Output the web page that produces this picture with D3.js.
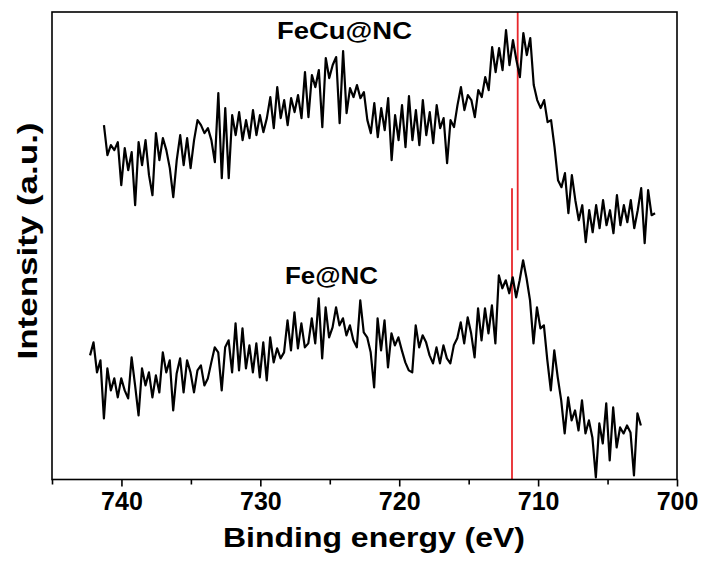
<!DOCTYPE html>
<html>
<head>
<meta charset="utf-8">
<script src="https://cdn.jsdelivr.net/npm/d3@7"></script>
<style>
  html, body { margin: 0; padding: 0; background: #fff; }
  text { font-family: "Liberation Sans", Arial, sans-serif; font-weight: bold; fill: #000; }
</style>
</head>
<body>
<svg id="chart" width="701" height="562"></svg>
<script>
// ---------- data ----------
const xDomain = [745, 700];
const yDomain = [0, 467];
const majorTicks = [740, 730, 720, 710, 700];
const minorTicks = [745, 735, 725, 715, 705];

const feCuLabel = "FeCu@NC";
const feLabel = "Fe@NC";

const feCuStart = 741.26, feCuEnd = 701.58;
const feCuIntensity = [354,324,334,329,337,294,331,309,327,274,
337,314,339,304,284,346,319,341,329,311,
282,319,344,314,341,311,339,359,354,346,
351,339,317,386,301,371,301,364,344,367,
339,359,341,369,344,364,347,361,382,351,
392,361,379,354,381,367,384,361,407,362,
404,392,409,352,421,401,414,422,356,428,
366,391,382,394,381,387,359,346,376,342,
371,349,381,319,364,339,374,332,383,339,
369,334,379,344,367,336,374,351,361,316,
359,352,374,392,369,384,379,362,389,382,
402,389,432,407,431,409,449,414,439,419,
402,446,424,441,394,379,371,379,357,359,
332,299,292,306,266,304,279,259,274,237,
269,247,274,251,279,254,269,246,284,254,
274,257,279,251,269,291,236,289,264,266];

const feStart = 742.26, feEnd = 702.60;
const feIntensity = [124,137,107,119,61,111,89,101,82,101,
89,81,122,94,64,111,94,107,82,104,
87,127,107,119,69,106,121,87,119,107,
87,109,114,94,101,117,132,127,89,132,
139,107,156,109,151,111,134,107,136,102,
137,99,142,117,131,121,127,159,129,167,
131,156,132,136,161,136,181,121,172,142,
152,172,154,161,144,154,139,132,179,147,
142,127,92,161,129,159,112,146,134,142,
129,117,109,107,154,132,144,137,124,116,
132,116,134,121,116,134,141,157,136,162,
146,122,171,139,171,146,174,136,204,191,
199,186,202,182,199,219,201,179,136,172,
151,154,119,89,129,102,79,46,82,59,
69,49,79,46,59,42,2,56,36,76,
19,72,32,52,46,54,47,4,66,54];

// reference marker lines: [energy, intensity from, intensity to]
const markerFeCu = [711.47, 467, 229];
const markerFe = [711.88, 291, 0];

// ---------- chart ----------
const svg = d3.select("#chart");
const plot = { left: 52, right: 677, top: 12, bottom: 479.5 };

const x = d3.scaleLinear().domain(xDomain).range([plot.left, plot.right]);
const y = d3.scaleLinear().domain(yDomain).range([plot.bottom, plot.top]);

function series(start, end, vals) {
  const n = vals.length;
  return vals.map((v, i) => ({ e: start + (end - start) * i / (n - 1), v }));
}

const line = d3.line().x(d => x(d.e)).y(d => y(d.v));

// red marker lines
[markerFeCu, markerFe].forEach(m => {
  svg.append("line")
    .attr("x1", x(m[0])).attr("x2", x(m[0]))
    .attr("y1", y(m[1])).attr("y2", y(m[2]))
    .attr("stroke", "#e8262b").attr("stroke-width", 1.8);
});

// spectra
[[feCuStart, feCuEnd, feCuIntensity], [feStart, feEnd, feIntensity]].forEach(s => {
  svg.append("path")
    .datum(series(s[0], s[1], s[2]))
    .attr("d", line)
    .attr("fill", "none")
    .attr("stroke", "#000")
    .attr("stroke-width", 2.2)
    .attr("stroke-linejoin", "round");
});

// frame
svg.append("rect")
  .attr("x", plot.left).attr("y", plot.top)
  .attr("width", plot.right - plot.left).attr("height", plot.bottom - plot.top)
  .attr("fill", "none").attr("stroke", "#000").attr("stroke-width", 1.6);

// x axis major
const gMajor = svg.append("g")
  .attr("transform", `translate(0,${plot.bottom})`)
  .call(d3.axisBottom(x).tickValues(majorTicks).tickSize(7).tickPadding(6).tickFormat(d3.format("d")));
gMajor.select(".domain").remove();
gMajor.selectAll(".tick line").attr("stroke", "#000").attr("stroke-width", 1.6);
gMajor.selectAll(".tick text")
  .attr("font-size", 25).attr("font-family", "Liberation Sans, Arial, sans-serif")
  .attr("font-weight", "bold").attr("fill", "#000");

// x axis minor
const gMinor = svg.append("g")
  .attr("transform", `translate(0,${plot.bottom})`)
  .call(d3.axisBottom(x).tickValues(minorTicks).tickSize(5).tickFormat(""));
gMinor.select(".domain").remove();
gMinor.selectAll(".tick line").attr("stroke", "#000").attr("stroke-width", 1.6);

// axis titles
svg.append("text")
  .attr("x", 374).attr("y", 547)
  .attr("text-anchor", "middle").attr("font-size", 28)
  .attr("textLength", 302).attr("lengthAdjust", "spacingAndGlyphs")
  .text("Binding energy (eV)");

svg.append("text")
  .attr("transform", "translate(37,241) rotate(-90)")
  .attr("text-anchor", "middle").attr("font-size", 28)
  .attr("textLength", 237).attr("lengthAdjust", "spacingAndGlyphs")
  .text("Intensity (a.u.)");

// series labels
svg.append("text")
  .attr("x", 344.5).attr("y", 39)
  .attr("text-anchor", "middle").attr("font-size", 24)
  .attr("textLength", 135).attr("lengthAdjust", "spacingAndGlyphs")
  .text(feCuLabel);

svg.append("text")
  .attr("x", 331.5).attr("y", 284)
  .attr("text-anchor", "middle").attr("font-size", 24)
  .attr("textLength", 93).attr("lengthAdjust", "spacingAndGlyphs")
  .text(feLabel);
</script>
</body>
</html>
